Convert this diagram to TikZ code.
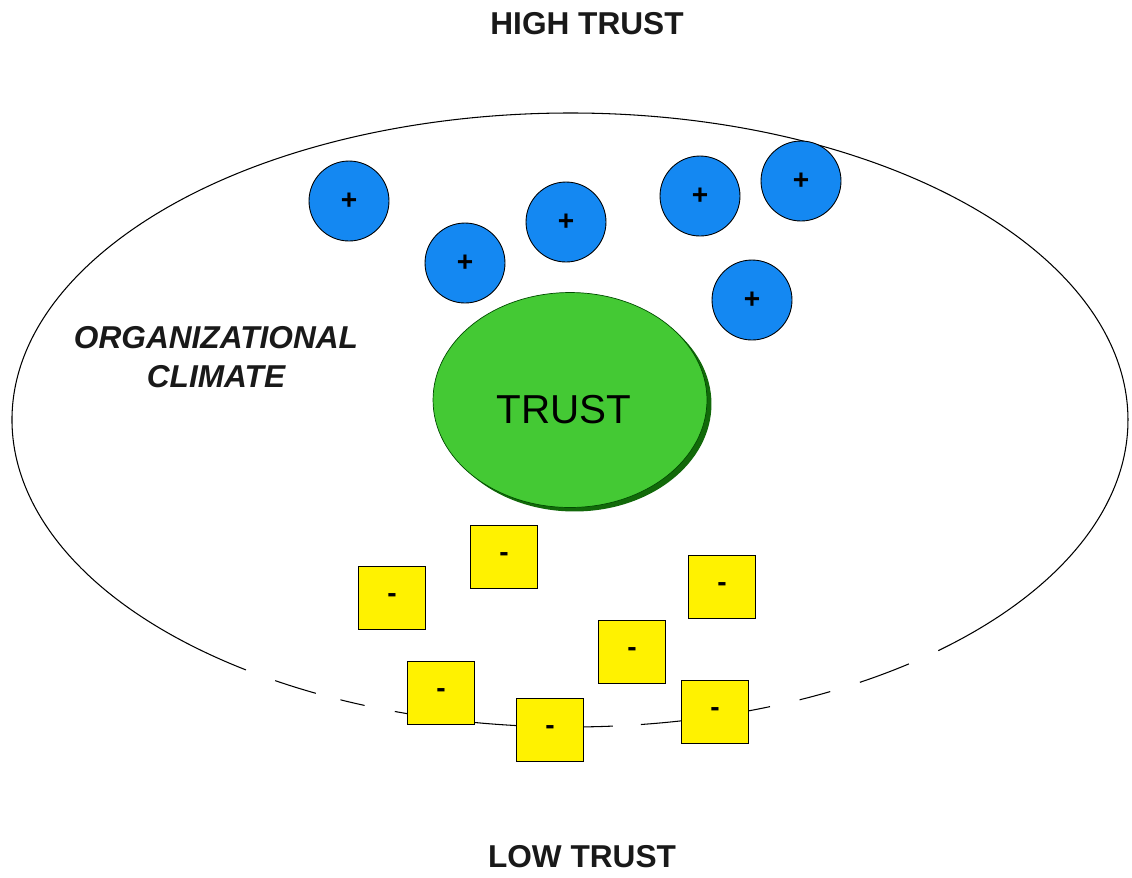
\documentclass[tikz,border=0pt]{standalone}
\usepackage{fontspec}
\setmainfont{Liberation Sans}
\usetikzlibrary{shapes.geometric, shadows}
\definecolor{plusblue}{RGB}{20,136,242}
\definecolor{trustgreen}{RGB}{68,201,52}
\definecolor{shadegreen}{RGB}{18,105,10}

\begin{document}
\begin{tikzpicture}[x=0.02cm, y=-0.02cm,
  plusball/.style={circle, draw, line width=0.5pt, fill=plusblue, minimum size=1.6cm, inner sep=0pt, font=\fontsize{16}{16}\selectfont\bfseries},
  minusbox/.style={rectangle, draw, semithick, fill=yellow, minimum width=1.34cm, minimum height=1.26cm, inner sep=0pt, font=\fontsize{16}{16}\selectfont\bfseries},
  lbl/.style={font=\fontsize{18}{22}\selectfont\bfseries, text=black!90}]
\useasboundingbox (0,0) rectangle (1132,877);
\node[lbl] (high) at (587,24) {HIGH TRUST};
\node[lbl] (low) at (582,857) {LOW TRUST};
\draw[line width=0.6pt] (570,420) ++(125.5:558 and 307) arc[start angle=125.5, end angle=408.7, x radius=558, y radius=307];
\foreach \a/\b in {121.9/117.1, 114.3/111.6, 108.3/85.6, 82.7/69, 65.7/62.2, 58.7/52.6}
  \draw[line width=0.6pt] (570,420) ++(\a:558 and 307) arc[start angle=\a, end angle=\b, x radius=558, y radius=307];
\node[lbl, font=\fontsize{18}{22}\selectfont\bfseries\itshape, align=center] (climate) at (216,357) {ORGANIZATIONAL\\CLIMATE};
\node[ellipse, draw=green!30!black, thin, fill=trustgreen, minimum width=5.48cm, minimum height=4.3cm,
  drop shadow={shadow xshift=0.09cm, shadow yshift=-0.08cm, fill=shadegreen, opacity=1}] (trust) at (570,400) {};
\node[font=\fontsize{23}{23}\selectfont] (trusttext) at (564,410) {TRUST};
\node[plusball] (p1) at (349,201) {+};
\node[plusball] (p2) at (465,263) {+};
\node[plusball] (p3) at (566,222) {+};
\node[plusball] (p4) at (700,196) {+};
\node[plusball] (p5) at (801,181) {+};
\node[plusball] (p6) at (752,300) {+};
\node[minusbox] (m1) at (392,598) {-};
\node[minusbox] (m2) at (504,557) {-};
\node[minusbox] (m3) at (722,587) {-};
\node[minusbox] (m4) at (632,652) {-};
\node[minusbox] (m5) at (441,693) {-};
\node[minusbox] (m6) at (550,730) {-};
\node[minusbox] (m7) at (715,712) {-};
\end{tikzpicture}
\end{document}
